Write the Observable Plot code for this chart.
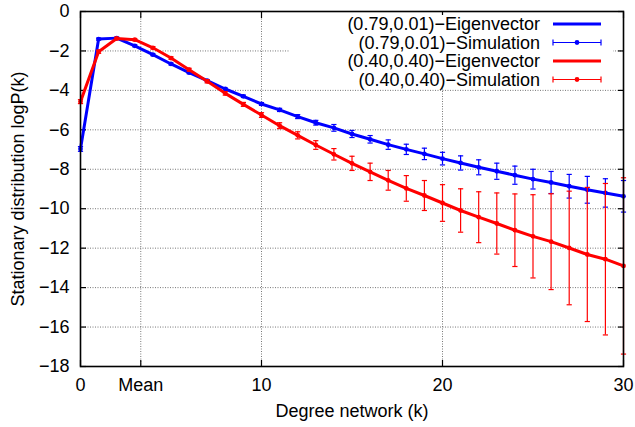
<!DOCTYPE html>
<html><head><meta charset="utf-8">
<script src="https://cdn.jsdelivr.net/npm/d3@7"></script>
<script src="https://cdn.jsdelivr.net/npm/@observablehq/plot@0.6"></script>
<style>
body{margin:0;background:#fff;}
#chart{position:relative;width:635px;height:427px;}
</style></head><body><div id="chart"></div>
<script>
// ---- data ----
const degrees = [0,1,2,3,4,5,6,7,8,9,10,11,12,13,14,15,16,17,18,19,20,21,22,23,24,25,26,27,28,29,30];
const blueEigen = [-6.97,-1.40,-1.35,-1.74,-2.19,-2.66,-3.10,-3.51,-3.93,-4.30,-4.69,-4.99,-5.33,-5.64,-5.90,-6.21,-6.48,-6.75,-6.99,-7.22,-7.46,-7.68,-7.90,-8.10,-8.30,-8.50,-8.67,-8.86,-9.04,-9.20,-9.37];
const blueSim   = [-6.97,-1.40,-1.35,-1.74,-2.19,-2.66,-3.10,-3.51,-3.93,-4.30,-4.69,-4.99,-5.33,-5.64,-5.90,-6.21,-6.48,-6.75,-6.99,-7.22,-7.46,-7.68,-7.90,-8.10,-8.30,-8.50,-8.67,-8.86,-9.04,-9.20,-9.37];
const blueErr   = [0.12,0.05,0.05,0.05,0.05,0.05,0.05,0.05,0.05,0.06,0.07,0.08,0.10,0.12,0.17,0.18,0.19,0.24,0.26,0.29,0.32,0.36,0.38,0.41,0.46,0.50,0.56,0.60,0.68,0.72,0.80];
const redEigen  = [-4.57,-2.04,-1.37,-1.43,-1.84,-2.36,-2.95,-3.54,-4.15,-4.71,-5.25,-5.79,-6.28,-6.77,-7.24,-7.70,-8.13,-8.56,-8.97,-9.33,-9.71,-10.09,-10.43,-10.75,-11.09,-11.40,-11.67,-11.99,-12.32,-12.56,-12.90];
const redSim    = [-4.57,-2.04,-1.37,-1.43,-1.84,-2.36,-2.95,-3.54,-4.15,-4.71,-5.25,-5.79,-6.28,-6.77,-7.24,-7.70,-8.13,-8.56,-8.97,-9.33,-9.71,-10.09,-10.43,-10.75,-11.09,-11.40,-11.67,-11.99,-12.32,-12.56,-12.90];
const redErr    = [0.10,0.08,0.05,0.05,0.06,0.06,0.07,0.08,0.09,0.10,0.12,0.15,0.18,0.22,0.29,0.36,0.44,0.50,0.65,0.76,0.93,1.10,1.29,1.55,1.84,2.11,2.43,2.88,3.40,3.84,4.47];
const meanDegree = 3.33;
const xTicks = [0, meanDegree, 10, 20, 30];
const xTickLabels = ["0", "Mean", "10", "20", "30"];
const yTicks = [-18,-16,-14,-12,-10,-8,-6,-4,-2,0];
const xGrid = [meanDegree, 10, 20];
const yGrid = [-16,-14,-12,-10,-8,-6,-4,-2];
const seriesNames = ["(0.79,0.01)\u2212Eigenvector","(0.79,0.01)\u2212Simulation","(0.40,0.40)\u2212Eigenvector","(0.40,0.40)\u2212Simulation"];
const xLabel = "Degree network (k)";
const yLabel = "Stationary distribution logP(k)";

const BLUE = "#0000ff", RED = "#ff0000";
const FONT = "'Liberation Sans', Arial, Helvetica, sans-serif";
const FS = 18;

const rows = (vals, err) => degrees.map((k, i) => ({k, y: vals[i], lo: vals[i] - (err ? err[i] : 0), hi: vals[i] + (err ? err[i] : 0)}));
const bE = rows(blueEigen), bS = rows(blueSim, blueErr), rE = rows(redEigen), rS = rows(redSim, redErr);
const labelOf = new Map(xTicks.map((v, i) => [v, xTickLabels[i]]));

const capSymbol = {draw(ctx, size) { const w = Math.sqrt(size / Math.PI); ctx.moveTo(-w, 0); ctx.lineTo(w, 0); }};

function simMarks(data, color) {
  return [
    Plot.ruleX(data, {x: "k", y1: "lo", y2: "hi", stroke: color, strokeWidth: 1.2}),
    Plot.dot(data, {x: "k", y: "lo", symbol: capSymbol, r: 2.6, stroke: color, fill: "none", strokeWidth: 1.2}),
    Plot.dot(data, {x: "k", y: "hi", symbol: capSymbol, r: 2.6, stroke: color, fill: "none", strokeWidth: 1.2}),
    Plot.dot(data, {x: "k", y: "y", r: 2.4, fill: color, stroke: "none"})
  ];
}

const plot = Plot.plot({
  width: 635, height: 427,
  marginLeft: 80, marginRight: 12, marginTop: 11, marginBottom: 61,
  style: {fontFamily: FONT, fontSize: FS + "px", color: "#000", background: "#fff", overflow: "visible"},
  x: {domain: [0, 30], label: null},
  y: {domain: [-18, 0], label: null},
  marks: [
    Plot.gridX(xGrid, {stroke: "#777", strokeOpacity: 1, strokeWidth: 1, strokeDasharray: "1,1.5"}),
    Plot.gridY(yGrid, {stroke: "#777", strokeOpacity: 1, strokeWidth: 1, strokeDasharray: "1,1.5"}),
    Plot.axisX(xTicks, {anchor: "bottom", tickSize: 0, tickPadding: 12, tickFormat: d => labelOf.get(d), fontSize: FS}),
    Plot.axisY(yTicks, {anchor: "left", tickSize: 0, tickPadding: 11, tickFormat: d => d3.format("d")(d), fontSize: FS}),
    Plot.axisX(xTicks, {anchor: "bottom", tickSize: -6, tickFormat: () => "", strokeWidth: 1.2}),
    Plot.axisX(xTicks, {anchor: "top", tickSize: -6, tickFormat: () => "", strokeWidth: 1.2}),
    Plot.axisY(yTicks, {anchor: "left", tickSize: -6, tickFormat: () => "", strokeWidth: 1.2}),
    Plot.axisY(yTicks, {anchor: "right", tickSize: -6, tickFormat: () => "", strokeWidth: 1.2}),
    Plot.line(bE, {x: "k", y: "y", stroke: BLUE, strokeWidth: 3}),
    ...simMarks(bS, BLUE),
    Plot.line(rE, {x: "k", y: "y", stroke: RED, strokeWidth: 3}),
    ...simMarks(rS, RED),
    Plot.frame({stroke: "#000", strokeWidth: 1.6})
  ]
});
document.getElementById("chart").appendChild(plot);

// axis titles
const svg = d3.select(plot);
svg.append("text").attr("x", 352).attr("y", 417).attr("text-anchor", "middle")
  .attr("font-family", FONT).attr("font-size", FS).attr("fill", "#000").text(xLabel);
svg.append("text").attr("transform", "translate(24,189) rotate(-90)").attr("text-anchor", "middle")
  .attr("font-family", FONT).attr("font-size", FS).attr("fill", "#000").text(yLabel);

// legend (white box hides grid behind it)
const lg = svg.append("g");
lg.append("rect").attr("x", 290).attr("y", 15).attr("width", 323).attr("height", 73).attr("fill", "#fff");
const colors = [BLUE, BLUE, RED, RED];
const rowY = [24, 42.5, 61, 79.5];
seriesNames.forEach((name, i) => {
  const y = rowY[i];
  lg.append("text").attr("x", 540).attr("y", y).attr("dy", "0.35em").attr("text-anchor", "end")
    .attr("font-family", FONT).attr("font-size", FS).attr("fill", "#000").text(name);
  if (i % 2 === 0) {
    lg.append("line").attr("x1", 553).attr("x2", 601).attr("y1", y).attr("y2", y).attr("stroke", colors[i]).attr("stroke-width", 3);
  } else {
    lg.append("line").attr("x1", 553).attr("x2", 601).attr("y1", y).attr("y2", y).attr("stroke", colors[i]).attr("stroke-width", 1.2);
    [553, 601].forEach(x => lg.append("line").attr("x1", x).attr("x2", x).attr("y1", y - 3).attr("y2", y + 3).attr("stroke", colors[i]).attr("stroke-width", 1.2));
    lg.append("circle").attr("cx", 577).attr("cy", y).attr("r", 2.4).attr("fill", colors[i]);
  }
});
</script></body></html>
